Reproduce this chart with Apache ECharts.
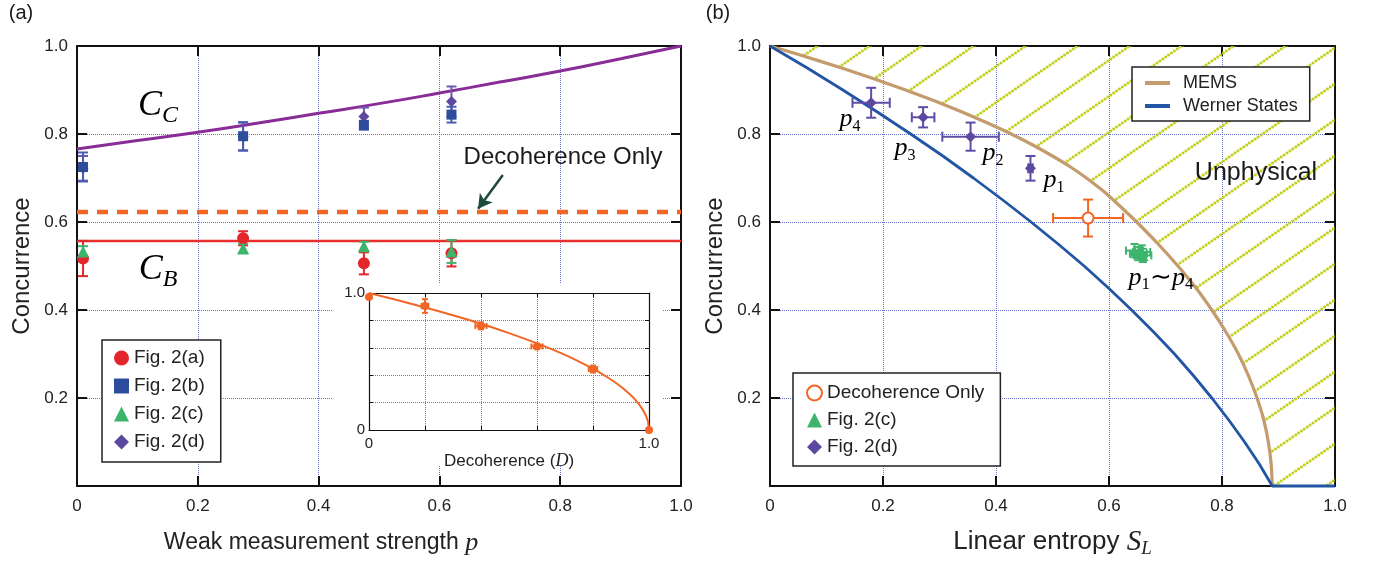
<!DOCTYPE html>
<html><head><meta charset="utf-8">
<script src="https://cdn.jsdelivr.net/npm/echarts@6/dist/echarts.min.js"></script>
<style>html,body{margin:0;padding:0;background:#fff}#c{width:1373px;height:563px}</style>
</head><body><div id="c"></div>
<script>
// ---------- Panel (a) data ----------
const pA = [0.01, 0.275, 0.475, 0.62];
const fig2aC = [0.517, 0.563, 0.506, 0.529];
const fig2aErr = [0.04, 0.016, 0.025, 0.03];
const fig2bC = [0.725, 0.795, 0.82, 0.844];
const fig2bErr = [0.033, 0.032, 0.01, 0.018];
const fig2cC = [0.533, 0.54, 0.545, 0.533];
const fig2cErr = [0.012, 0.01, 0.01, 0.026];
const fig2dC = [0.722, 0.794, 0.84, 0.874];
const fig2dErr = [0.028, 0.032, 0.02, 0.034];
const ccP = [0, 0.1, 0.2, 0.3, 0.4, 0.5, 0.6, 0.7, 0.8, 0.9, 1.0];
const ccV = [0.766, 0.785, 0.804, 0.825, 0.847, 0.869, 0.893, 0.918, 0.943, 0.971, 1.0];
const cbP = [0, 1];
const cbV = [0.557, 0.557];
const decohLineV = [0.623, 0.623];
const arrowFrom = [0.705, 0.707];
const arrowTo = [0.664, 0.63];
// ---------- Inset data ----------
const insetD = [0, 0.2, 0.4, 0.6, 0.8, 1.0];
const insetC = [0.97, 0.905, 0.76, 0.61, 0.445, 0];
const insetErrC = [0, 0.05, 0.025, 0.02, 0.025, 0];
const insetErrD = [0, 0.012, 0.02, 0.02, 0.015, 0];
const insetCurveD = [0, 0.1, 0.2, 0.3, 0.4, 0.5, 0.6, 0.7, 0.8, 0.85, 0.9, 0.95, 0.98, 0.995, 1];
const insetCurveC = [1, 0.949, 0.894, 0.837, 0.775, 0.707, 0.632, 0.548, 0.447, 0.387, 0.316, 0.224, 0.141, 0.071, 0];
// ---------- Panel (b) data ----------
const memsC = [1, 0.98, 0.95, 0.925, 0.9, 0.875, 0.85, 0.825, 0.8, 0.775, 0.75, 0.725, 0.7, 0.667, 0.633, 0.6, 0.55, 0.5, 0.45, 0.4, 0.35, 0.3, 0.25, 0.2, 0.15, 0.1, 0.05, 0];
const memsS = [0, 0.052, 0.127, 0.185, 0.24, 0.292, 0.34, 0.385, 0.427, 0.465, 0.5, 0.532, 0.56, 0.593, 0.622, 0.649, 0.687, 0.722, 0.754, 0.782, 0.807, 0.829, 0.847, 0.862, 0.874, 0.882, 0.887, 0.889];
const wernerC = [1, 0.95, 0.9, 0.85, 0.8, 0.75, 0.7, 0.65, 0.6, 0.55, 0.5, 0.45, 0.4, 0.35, 0.3, 0.25, 0.2, 0.15, 0.1, 0.05, 0, 0];
const wernerS = [0, 0.066, 0.129, 0.19, 0.249, 0.306, 0.36, 0.412, 0.462, 0.51, 0.556, 0.599, 0.64, 0.679, 0.716, 0.75, 0.782, 0.812, 0.84, 0.866, 0.889, 1.0];
const bFig2dS = [0.461, 0.355, 0.271, 0.179];
const bFig2dC = [0.722, 0.794, 0.838, 0.871];
const bFig2dSErr = [0.004, 0.05, 0.02, 0.033];
const bFig2dCErr = [0.028, 0.032, 0.023, 0.034];
const bDecohS = [0.563];
const bDecohC = [0.609];
const bDecohSErr = [0.062];
const bDecohCErr = [0.042];
const bFig2cS = [0.645, 0.652, 0.658, 0.66];
const bFig2cC = [0.535, 0.528, 0.532, 0.524];
const bFig2cSErr = [0.015, 0.015, 0.015, 0.015];
const bFig2cCErr = [0.015, 0.015, 0.015, 0.015];
const tickStep = 0.2;

// ---------- styles ----------
const SANS = 'Liberation Sans, Arial, sans-serif';
const SERIF = 'Liberation Serif, Times New Roman, serif';
const RED = '#e3262b', BLUE = '#2d4d9c', GREEN = '#3db46c', PURPLE = '#5c489e', ORANGE = '#f26524';
const GRIDC = '#6676cf';

function zip(a, b) { return a.map((v, i) => [v, b[i]]); }
function errData(x, y, ex, ey) { return x.map((v, i) => [v, y[i], ex ? ex[i] : 0, ey ? ey[i] : 0]); }

function errRender(cap, lw) {
  return function (params, api) {
    const x = api.value(0), y = api.value(1), ex = api.value(2), ey = api.value(3);
    const color = api.visual('color');
    const st = { stroke: color, lineWidth: lw };
    const ch = [];
    const L = (a, b) => ({ type: 'line', shape: { x1: a[0], y1: a[1], x2: b[0], y2: b[1] }, style: st });
    if (ey > 0) {
      const a = api.coord([x, y - ey]), b = api.coord([x, y + ey]);
      ch.push(L(a, b), L([a[0] - cap, a[1]], [a[0] + cap, a[1]]), L([b[0] - cap, b[1]], [b[0] + cap, b[1]]));
    }
    if (ex > 0) {
      const a = api.coord([x - ex, y]), b = api.coord([x + ex, y]);
      ch.push(L(a, b), L([a[0], a[1] - cap], [a[0], a[1] + cap]), L([b[0], b[1] - cap], [b[0], b[1] + cap]));
    }
    return { type: 'group', children: ch };
  };
}

function makeHatch() {
  const w = 52, h = 36;
  const c = document.createElement('canvas');
  c.width = w; c.height = h;
  const ctx = c.getContext('2d');
  ctx.fillStyle = '#c4d020';
  const n = 18;
  for (let i = 0; i < n; i++) {
    const t = (i + 0.5) / n;
    const x = t * w, y = h - t * h;
    for (const dx of [-w, 0, w]) for (const dy of [-h, 0, h]) {
      ctx.fillRect(x + dx - 1.35, y + dy - 1.35, 2.7, 2.7);
    }
  }
  return c;
}
const hatchPattern = { type: 'pattern', image: makeHatch(), repeat: 'repeat' };

function mainX(grid, name) {
  return [{
    gridIndex: grid, type: 'value', min: 0, max: 1, interval: tickStep, position: 'bottom',
    axisLine: { show: true, onZero: false, lineStyle: { color: '#111', width: 2 } },
    axisTick: { show: true, inside: true, length: 10, lineStyle: { color: '#111', width: 2 } },
    axisLabel: { show: true, margin: 12, fontSize: 17, color: '#222', fontFamily: SANS, formatter: v => v === 0 ? '0' : v.toFixed(1) },
    splitLine: { show: true, lineStyle: { color: GRIDC, type: 'dotted', width: 1 } },
    name: name.text, nameLocation: 'middle', nameGap: name.gap,
    nameTextStyle: name.style
  }, {
    gridIndex: grid, type: 'value', min: 0, max: 1, interval: tickStep, position: 'top',
    axisLine: { show: true, onZero: false, lineStyle: { color: '#111', width: 2 } },
    axisTick: { show: true, inside: true, length: 10, lineStyle: { color: '#111', width: 2 } },
    axisLabel: { show: false }, splitLine: { show: false }
  }];
}
function mainY(grid) {
  return [{
    gridIndex: grid, type: 'value', min: 0, max: 1, interval: tickStep, position: 'left',
    axisLine: { show: true, onZero: false, lineStyle: { color: '#111', width: 2 } },
    axisTick: { show: true, inside: true, length: 10, lineStyle: { color: '#111', width: 2 } },
    axisLabel: { show: true, margin: 9, fontSize: 17, color: '#222', fontFamily: SANS, formatter: v => v === 0 ? '' : v.toFixed(1) },
    splitLine: { show: true, lineStyle: { color: GRIDC, type: 'dotted', width: 1 } },
    name: 'Concurrence', nameLocation: 'middle', nameGap: 43,
    nameTextStyle: { fontSize: 24, color: '#222', fontFamily: SANS }
  }, {
    gridIndex: grid, type: 'value', min: 0, max: 1, interval: tickStep, position: 'right',
    axisLine: { show: true, onZero: false, lineStyle: { color: '#111', width: 2 } },
    axisTick: { show: true, inside: true, length: 10, lineStyle: { color: '#111', width: 2 } },
    axisLabel: { show: false }, splitLine: { show: false }
  }];
}

const nameA = {
  text: '{t|Weak measurement strength }{i|p}', gap: 42,
  style: { color: '#222', padding: [0, 116, 0, 0], rich: { t: { fontSize: 23, fontFamily: SANS, color: '#222', lineHeight: 30 }, i: { fontSize: 26, fontStyle: 'italic', fontFamily: SERIF, color: '#222', lineHeight: 30 } } }
};
const nameB = {
  text: '{t|Linear entropy }{i|S}{s|L}', gap: 40,
  style: { color: '#222', rich: { t: { fontSize: 26, fontFamily: SANS, color: '#222', lineHeight: 32 }, i: { fontSize: 29, fontStyle: 'italic', fontFamily: SERIF, color: '#222', lineHeight: 32 }, s: { fontSize: 19, fontStyle: 'italic', fontFamily: SERIF, color: '#222', lineHeight: 16, verticalAlign: 'bottom' } } }
};

const insetAxisCommon = {
  type: 'value', min: 0, max: 1, interval: tickStep, z: 3,
  axisLine: { show: true, onZero: false, lineStyle: { color: '#111', width: 1.2 } },
  axisTick: { show: true, inside: true, length: 4, lineStyle: { color: '#111', width: 1 } },
  splitLine: { show: false }
};

const xAxes = [
  ...mainX(0, nameA),
  Object.assign({}, insetAxisCommon, {
    gridIndex: 1, position: 'bottom',
    axisLabel: { show: true, margin: 6, fontSize: 15, color: '#222', fontFamily: SANS, formatter: v => v === 0 ? '0' : (v === 1 ? '1.0' : '') },
    splitLine: { show: true, lineStyle: { color: GRIDC, type: 'dotted', width: 1 } },
    name: '{t|Decoherence (}{i|D}{t|)}', nameLocation: 'middle', nameGap: 5,
    nameTextStyle: { rich: { t: { fontSize: 17, fontFamily: SANS, color: '#222' }, i: { fontSize: 18, fontStyle: 'italic', fontFamily: SERIF, color: '#222' } } }
  }),
  Object.assign({}, insetAxisCommon, { gridIndex: 1, position: 'top', axisLabel: { show: false } }),
  ...mainX(2, nameB)
];
const yAxes = [
  ...mainY(0),
  Object.assign({}, insetAxisCommon, {
    gridIndex: 1, position: 'left',
    axisLabel: { show: true, margin: 4, fontSize: 15, color: '#222', fontFamily: SANS, formatter: v => v === 0 ? '0' : (v === 1 ? '1.0' : '') },
    splitLine: { show: true, lineStyle: { color: GRIDC, type: 'dotted', width: 1 } }
  }),
  Object.assign({}, insetAxisCommon, { gridIndex: 1, position: 'right', axisLabel: { show: false } }),
  ...mainY(2)
];

const series = [
  // ---- panel (a) ----
  { type: 'line', name: 'C_C', xAxisIndex: 0, yAxisIndex: 0, data: zip(ccP, ccV), smooth: true, symbol: 'none',
    lineStyle: { color: '#8a2c98', width: 3 }, z: 3 },
  { type: 'line', name: 'C_B', xAxisIndex: 0, yAxisIndex: 0, data: zip(cbP, cbV), symbol: 'none',
    lineStyle: { color: '#ea2f2c', width: 2.5 }, z: 3 },
  { type: 'line', name: 'decohLine', xAxisIndex: 0, yAxisIndex: 0, data: zip(cbP, decohLineV), symbol: 'none',
    lineStyle: { color: ORANGE, width: 4.5, type: [11, 9] }, z: 3,
    markLine: { silent: true, symbol: ['none', 'arrow'], symbolSize: [12, 14], label: { show: false },
      lineStyle: { color: '#1d4a3b', width: 2.5, type: 'solid' },
      data: [[{ coord: arrowFrom }, { coord: arrowTo }]] } },
  { type: 'custom', name: 'errA', xAxisIndex: 0, yAxisIndex: 0, renderItem: errRender(5, 2), data: errData(pA, fig2aC, null, fig2aErr), itemStyle: { color: RED }, z: 4, silent: true },
  { type: 'custom', name: 'errC', xAxisIndex: 0, yAxisIndex: 0, renderItem: errRender(5, 2), data: errData(pA, fig2cC, null, fig2cErr), itemStyle: { color: GREEN }, z: 4, silent: true },
  { type: 'custom', name: 'errD', xAxisIndex: 0, yAxisIndex: 0, renderItem: errRender(5, 2), data: errData(pA, fig2dC, null, fig2dErr), itemStyle: { color: '#6a5ab0' }, z: 4, silent: true },
  { type: 'custom', name: 'errB', xAxisIndex: 0, yAxisIndex: 0, renderItem: errRender(5, 2), data: errData(pA, fig2bC, null, fig2bErr), itemStyle: { color: '#4a5db4' }, z: 4, silent: true },
  { type: 'scatter', name: 'Fig. 2(a)', xAxisIndex: 0, yAxisIndex: 0, data: zip(pA, fig2aC), symbol: 'circle', symbolSize: 12, itemStyle: { color: RED, opacity: 1 }, z: 5 },
  { type: 'scatter', name: 'Fig. 2(c)', xAxisIndex: 0, yAxisIndex: 0, data: zip(pA, fig2cC), symbol: 'triangle', symbolSize: 12, itemStyle: { color: GREEN, opacity: 1 }, z: 5 },
  { type: 'scatter', name: 'Fig. 2(d)', xAxisIndex: 0, yAxisIndex: 0, data: zip(pA, fig2dC), symbol: 'diamond', symbolSize: 11, itemStyle: { color: PURPLE, opacity: 1 }, z: 5 },
  { type: 'scatter', name: 'Fig. 2(b)', xAxisIndex: 0, yAxisIndex: 0, data: zip(pA, fig2bC), symbol: 'rect', symbolSize: 10, itemStyle: { color: BLUE, opacity: 1 }, z: 6 },
  // ---- inset ----
  { type: 'line', name: 'insetCurve', xAxisIndex: 2, yAxisIndex: 2, data: zip(insetCurveD, insetCurveC), smooth: 0.3, symbol: 'none',
    lineStyle: { color: ORANGE, width: 2 }, z: 6, clip: false },
  { type: 'custom', name: 'insetErr', xAxisIndex: 2, yAxisIndex: 2, renderItem: errRender(3, 2), data: errData(insetD, insetC, insetErrD, insetErrC), itemStyle: { color: ORANGE }, z: 7, silent: true, clip: false },
  { type: 'scatter', name: 'insetPts', xAxisIndex: 2, yAxisIndex: 2, data: zip(insetD, insetC), symbol: 'circle', symbolSize: 8, itemStyle: { color: ORANGE, opacity: 1 }, z: 8, clip: false },
  // ---- panel (b) ----
  { type: 'custom', name: 'hatch', xAxisIndex: 4, yAxisIndex: 4, silent: true, z: 1, data: [[0, 1]],
    renderItem: function (params, api) {
      const pts = memsS.map((s, i) => api.coord([s, memsC[i]]));
      pts.push(api.coord([1, 0]));
      pts.push(api.coord([1, 1]));
      return { type: 'polygon', shape: { points: pts }, style: { fill: hatchPattern, stroke: null } };
    } },
  { type: 'line', name: 'MEMS', xAxisIndex: 4, yAxisIndex: 4, data: zip(memsS, memsC), symbol: 'none', smooth: 0.2,
    lineStyle: { color: '#c39b6c', width: 3.2 }, itemStyle: { color: '#c39b6c' }, z: 3, clip: false },
  { type: 'line', name: 'Werner States', xAxisIndex: 4, yAxisIndex: 4, data: zip(wernerS, wernerC), symbol: 'none',
    lineStyle: { color: '#2255a4', width: 2.8 }, itemStyle: { color: '#2255a4' }, z: 3, clip: false },
  { type: 'custom', name: 'bErrDecoh', xAxisIndex: 4, yAxisIndex: 4, renderItem: errRender(5, 2), data: errData(bDecohS, bDecohC, bDecohSErr, bDecohCErr), itemStyle: { color: ORANGE }, z: 4, silent: true },
  { type: 'custom', name: 'bErrC', xAxisIndex: 4, yAxisIndex: 4, renderItem: errRender(4, 2), data: errData(bFig2cS, bFig2cC, bFig2cSErr, bFig2cCErr), itemStyle: { color: GREEN }, z: 4, silent: true },
  { type: 'custom', name: 'bErrD', xAxisIndex: 4, yAxisIndex: 4, renderItem: errRender(5, 2), data: errData(bFig2dS, bFig2dC, bFig2dSErr, bFig2dCErr), itemStyle: { color: '#5e4da6' }, z: 4, silent: true },
  { type: 'scatter', name: 'Decoherence Only', xAxisIndex: 4, yAxisIndex: 4, data: zip(bDecohS, bDecohC), symbol: 'emptyCircle', symbolSize: 11, itemStyle: { color: ORANGE, borderWidth: 2.5, opacity: 1 }, z: 5 },
  { type: 'scatter', name: 'Fig. 2(c)', xAxisIndex: 4, yAxisIndex: 4, data: zip(bFig2cS, bFig2cC), symbol: 'triangle', symbolSize: 11, itemStyle: { color: GREEN, opacity: 1 }, z: 5 },
  { type: 'scatter', name: 'Fig. 2(d)', xAxisIndex: 4, yAxisIndex: 4, data: zip(bFig2dS, bFig2dC), symbol: 'diamond', symbolSize: 11, itemStyle: { color: PURPLE, opacity: 1 }, z: 5 }
];

const subRich = (main, sub) => ({
  m: { fontSize: main, fontStyle: 'italic', fontFamily: SERIF, color: '#111', lineHeight: Math.round(main * 1.2) },
  s: { fontSize: sub, fontFamily: SERIF, color: '#111', lineHeight: Math.round(sub * 0.9), verticalAlign: 'bottom' },
  si: { fontSize: sub, fontStyle: 'italic', fontFamily: SERIF, color: '#111', lineHeight: Math.round(sub * 0.9), verticalAlign: 'bottom' },
  t: { fontSize: main, fontFamily: SERIF, color: '#111', lineHeight: Math.round(main * 1.2) }
});
function label(x, y, text, size, fam) {
  return { type: 'text', x: x, y: y, z: 20, silent: true,
    style: { text: text, fontSize: size, fontFamily: fam || SANS, fill: '#1a1a1a', align: 'center', verticalAlign: 'middle' } };
}
function mathLabel(x, y, text, main, sub) {
  return { type: 'text', x: x, y: y, z: 20, silent: true,
    style: { text: text, rich: subRich(main, sub), align: 'center', verticalAlign: 'middle' } };
}

const lineIcon = 'rect';
const option = {
  animation: false,
  backgroundColor: '#fff',
  textStyle: { fontFamily: SANS },
  grid: [
    { left: 77, top: 46, width: 604, height: 440, outerBoundsMode: 'none', containLabel: false },
    { left: 369, top: 293, width: 280, height: 137, outerBoundsMode: 'none', containLabel: false, z: 3 },
    { left: 770, top: 46, width: 565, height: 440, outerBoundsMode: 'none', containLabel: false }
  ],
  xAxis: xAxes,
  yAxis: yAxes,
  legend: [
    { data: ['Fig. 2(a)', 'Fig. 2(b)', 'Fig. 2(c)', 'Fig. 2(d)'], orient: 'vertical', left: 102, top: 340, selectedMode: false,
      itemWidth: 15, itemHeight: 15, itemGap: 8, padding: [8, 16, 10, 12], borderColor: '#222', borderWidth: 1.5, backgroundColor: '#fff',
      textStyle: { fontSize: 19, lineHeight: 20, color: '#222', fontFamily: SANS } },
    { data: [{ name: 'MEMS', icon: lineIcon }, { name: 'Werner States', icon: lineIcon }], orient: 'vertical', left: 1132, top: 67, selectedMode: false,
      itemWidth: 25, itemHeight: 4, itemGap: 5, padding: [7, 12, 6, 13], borderColor: '#222', borderWidth: 1.5, backgroundColor: '#fff',
      textStyle: { fontSize: 18, lineHeight: 18, color: '#222', fontFamily: SANS, padding: [0, 0, 0, 8] } },
    { data: ['Decoherence Only', 'Fig. 2(c)', 'Fig. 2(d)'], orient: 'vertical', left: 793, top: 373, selectedMode: false,
      itemWidth: 15, itemHeight: 15, itemGap: 7, padding: [10, 16, 9, 13], borderColor: '#222', borderWidth: 1.5, backgroundColor: '#fff',
      textStyle: { fontSize: 19, lineHeight: 20, color: '#222', fontFamily: SANS } }
  ],
  graphic: [
    { type: 'rect', shape: { x: 333, y: 283, width: 330, height: 183 }, style: { fill: '#fff' }, z: 1, silent: true },
    label(21, 13, '(a)', 20),
    label(718, 13, '(b)', 20),
    mathLabel(158, 106, '{m|C}{si|C}', 36, 24),
    mathLabel(158, 270, '{m|C}{si|B}', 36, 24),
    label(563, 157, 'Decoherence Only', 24),
    label(1256, 173, 'Unphysical', 25),
    mathLabel(850, 119, '{m|p}{s|4}', 26, 16),
    mathLabel(905, 148, '{m|p}{s|3}', 26, 16),
    mathLabel(993, 153, '{m|p}{s|2}', 26, 16),
    mathLabel(1054, 180, '{m|p}{s|1}', 26, 16),
    mathLabel(1161, 278, '{m|p}{s|1}{t|∼}{m|p}{s|4}', 26, 17)
  ],
  series: series
};

const chart = echarts.init(document.getElementById('c'), null, { renderer: 'canvas' });
chart.setOption(option);
</script>
</body></html>
